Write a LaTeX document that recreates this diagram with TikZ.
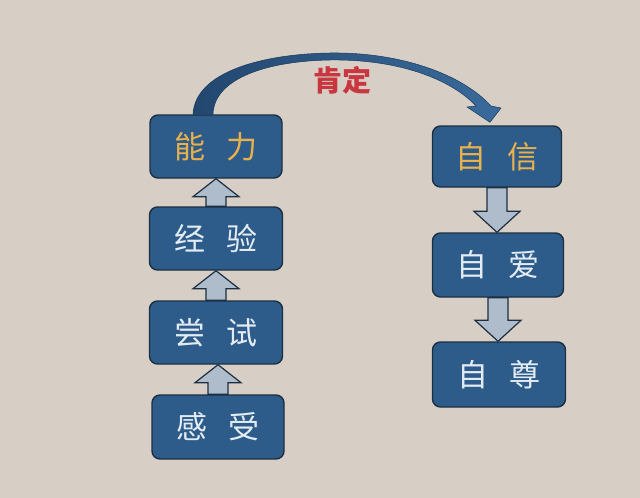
\documentclass[tikz,border=0pt]{standalone}
\usepackage{fontspec}
\newfontfamily\cjk{Noto Sans CJK SC}
\usetikzlibrary{calc}
\definecolor{bg}{HTML}{D7CFC6}
\definecolor{boxfill}{HTML}{2D5C8A}
\definecolor{boxline}{HTML}{1C2F42}
\definecolor{arrfill}{HTML}{AFBCCB}
\definecolor{gold}{HTML}{E9B14E}
\definecolor{pale}{HTML}{E4ECF3}
\definecolor{curveA}{HTML}{22476F}
\definecolor{curveB}{HTML}{3A6B9C}
\definecolor{lbl}{HTML}{C8363F}
\tikzset{
  card/.style={draw=boxline, line width=1.4pt, fill=boxfill, rounded corners=8pt,
    inner sep=0pt, font=\cjk\fontsize{31}{31}\selectfont, text=pale},
  goldtext/.style={text=gold},
  blockarr/.style={draw=boxline, line width=1.2pt, fill=arrfill, line join=miter},
  bigcurve/.style={left color=curveA, right color=curveB, draw=curveA!80!black, line width=0.5pt},
}
\newcommand\blockarr[4]{% from, to, head half width, head length
  \draw[blockarr] let \p1=(#1), \p2=(#2), \n1={sign(\y2-\y1)} in
    (\x1-10pt,\y1) -- (\x1-10pt,{\y2-\n1*#4}) -- (\x1-#3,{\y2-\n1*#4}) --
    (\x1,\y2) -- (\x1+#3,{\y2-\n1*#4}) -- (\x1+10pt,{\y2-\n1*#4}) --
    (\x1+10pt,\y1) -- cycle;}
\begin{document}
\begin{tikzpicture}[x=1pt,y=-1pt]
\fill[bg] (0,0) rectangle (640,498);
\useasboundingbox (0,0) rectangle (640,498);
% boxes
\node[card, goldtext, minimum width=132pt, minimum height=63pt] (nl) at (216,146.5) {能\hspace{0.7em}力};
\node[card, minimum width=133pt, minimum height=63pt] (jy) at (216,238.5) {经\hspace{0.7em}验};
\node[card, minimum width=133pt, minimum height=63pt] (cs) at (216,332.5) {尝\hspace{0.7em}试};
\node[card, minimum width=132pt, minimum height=64pt] (gs) at (218,427) {感\hspace{0.7em}受};
\node[card, goldtext, minimum width=129pt, minimum height=61pt] (zx) at (497,156.5) {自\hspace{0.7em}信};
\node[card, minimum width=131pt, minimum height=64pt] (za) at (498,265) {自\hspace{0.7em}爱};
\node[card, minimum width=133pt, minimum height=65pt] (zz) at (499,374.5) {自\hspace{0.7em}尊};
% block arrows
\blockarr{gs.north}{cs.south}{23pt}{18pt}
\blockarr{cs.north}{jy.south}{23pt}{18pt}
\blockarr{jy.north}{nl.south}{23pt}{18pt}
\blockarr{zx.south}{za.north}{23pt}{21pt}
\blockarr{za.south}{zz.north}{23pt}{21pt}
% curved tapered arrow
\coordinate (cs1) at ($(nl.north)+(-23,0)$);
\coordinate (cs2) at ($(nl.north)+(-3,0)$);
\coordinate (ce1) at ($(zx.north)+(-7,-3)$);
\path[bigcurve] (cs1) .. controls (195,72) and (262,54) .. (330,53)
  .. controls (400,52) and (462,74) .. (491,106)
  -- (501,108) -- (ce1) -- (467,107) -- (476,106)
  .. controls (452,80) and (400,59) .. (330,60)
  .. controls (268,61) and (214,78) .. (cs2) -- cycle;
\node[font=\cjk\bfseries\fontsize{29}{29}\selectfont, text=lbl, inner sep=0pt] (kd) at (342,80) {肯定};
\end{tikzpicture}
\end{document}
